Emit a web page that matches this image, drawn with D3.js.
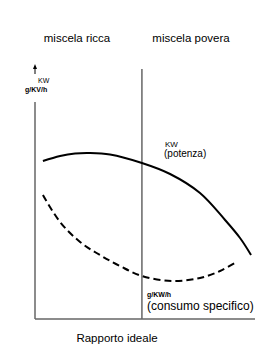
<!DOCTYPE html>
<html>
<head>
<meta charset="utf-8">
<script src="https://cdn.jsdelivr.net/npm/d3@7"></script>
<style>
  body { margin: 0; background: #fff; }
  text { font-family: "Liberation Sans", Arial, sans-serif; fill: #000; }
</style>
</head>
<body>
<div id="chart"></div>
<script>
// x in 0..100 (mixture ratio), y in 0..100 (arbitrary units)
const potenzaX = [3.6, 11.4, 18.2, 25, 34.1, 48.6, 61.4, 75, 86.4, 93.2, 98.2];
const potenzaY = [63.2, 65.2, 66.2, 66.4, 65.8, 62.4, 58, 50.4, 39.6, 32.4, 25.6];
const consumoX = [3.6, 11.4, 20.5, 29.5, 38.6, 48.6, 62.3, 75, 84.1, 90.9];
const consumoY = [49.6, 38.8, 30.8, 25.6, 21.2, 17.2, 15.2, 16.4, 19.2, 22.4];
const idealX = 48.6;
const zoneLabels = ["miscela ricca", "miscela povera"];

const w = 265, h = 358;
const svg = d3.select("#chart").append("svg")
  .attr("width", w).attr("height", h);

const x = d3.scaleLinear().domain([0, 100]).range([35, 255]);
const y = d3.scaleLinear().domain([0, 100]).range([319, 69]);

// axes
svg.append("line")
  .attr("x1", x(0)).attr("x2", x(100))
  .attr("y1", y(0)).attr("y2", y(0))
  .attr("stroke", "#666").attr("stroke-width", 1.5);
svg.append("line")
  .attr("x1", x(0)).attr("x2", x(0))
  .attr("y1", y(0)).attr("y2", 102)
  .attr("stroke", "#666").attr("stroke-width", 1.5);
// little arrow above the y label
svg.append("line")
  .attr("x1", x(0)).attr("x2", x(0))
  .attr("y1", 69).attr("y2", 74)
  .attr("stroke", "#000").attr("stroke-width", 1);
svg.append("path")
  .attr("d", `M${x(0)-2},69 L${x(0)},64 L${x(0)+2},69 Z`)
  .attr("fill", "#000");

svg.append("text").attr("x", x(0) + 3).attr("y", 83)
  .attr("font-size", 7).text("KW");
svg.append("text").attr("x", 25).attr("y", 92)
  .attr("font-size", 7).attr("font-weight", "bold").text("g/KV/h");

// ideal ratio divider
svg.append("line")
  .attr("x1", x(idealX)).attr("x2", x(idealX))
  .attr("y1", y(0)).attr("y2", y(100))
  .attr("stroke", "#666").attr("stroke-width", 1.5);

svg.selectAll(".zone")
  .data(zoneLabels)
  .enter().append("text")
  .attr("class", "zone")
  .attr("x", (d, i) => i == 0 ? 77 : 191)
  .attr("y", 42)
  .attr("text-anchor", "middle")
  .attr("font-size", 11.5)
  .text(d => d);

const line = d3.line()
  .x(d => x(d[0]))
  .y(d => y(d[1]))
  .curve(d3.curveCatmullRom);

svg.append("path")
  .datum(d3.zip(potenzaX, potenzaY))
  .attr("d", line)
  .attr("fill", "none")
  .attr("stroke", "#000")
  .attr("stroke-width", 2);

svg.append("path")
  .datum(d3.zip(consumoX, consumoY))
  .attr("d", line)
  .attr("fill", "none")
  .attr("stroke", "#000")
  .attr("stroke-width", 2)
  .attr("stroke-dasharray", "7,4");

// curve labels
svg.append("text").attr("x", 165).attr("y", 147)
  .attr("font-size", 8).attr("font-family", "DejaVu Sans").text("KW");
svg.append("text").attr("x", 164).attr("y", 157)
  .attr("font-size", 10).attr("font-family", "DejaVu Sans").text("(potenza)");

svg.append("text").attr("x", 147).attr("y", 297)
  .attr("font-size", 7).attr("font-weight", "bold").text("g/KW/h");
svg.append("text").attr("x", 147).attr("y", 310)
  .attr("font-size", 12).text("(consumo specifico)");

svg.append("text").attr("x", 117).attr("y", 342)
  .attr("text-anchor", "middle")
  .attr("font-size", 11.5).text("Rapporto ideale");
</script>
</body>
</html>
